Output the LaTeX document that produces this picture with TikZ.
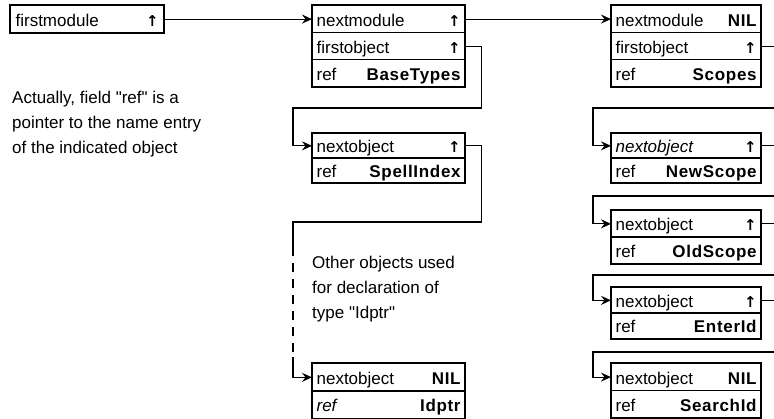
\documentclass[tikz,border=0pt]{standalone}
\usepackage{fontspec}
\setmainfont{Liberation Sans}[Ligatures=TeXOff]
\newfontfamily\arrowglyphs{DejaVu Sans}
\usetikzlibrary{arrows.meta,fit}

% small pointer glyph and a record field: name on the left, value on the right
\newcommand{\ptrmark}{{\arrowglyphs\bfseries\fontsize{15}{15}\selectfont ↑}}
\newcommand{\fieldrow}[3]{\makebox[#1]{#2\hfill{\bfseries\addfontfeature{LetterSpace=4}#3}}}

\begin{document}
\begin{tikzpicture}[x=1pt,y=-1pt,
  font=\fontsize{17}{25}\selectfont,
  cell/.style={draw, line width=1.2pt, inner sep=0pt, anchor=north west,
               text height=14pt, text depth=0pt},
  midcell/.style={cell, minimum width=152pt},
  rightcell/.style={cell, minimum width=149pt},
  frame/.style={draw, line width=2.2pt, inner sep=0pt},
  wire/.style={line width=1.1pt},
  ptr/.style={wire, -{Stealth[length=10pt,width=9pt,inset=3.5pt]}},
  gap/.style={wire, dash pattern=on 9pt off 7pt},
  note/.style={anchor=north west, align=left, inner sep=0pt},
]
\fill[white] (0,0) rectangle (774,419);
\useasboundingbox (0,0) rectangle (774,419);

% list head
\node[cell, minimum width=153pt, minimum height=27pt] (fm) at (10,5)
  {\fieldrow{143pt}{firstmodule}{\ptrmark}};
\node[frame, fit=(fm)] (fmf) {};

% module BaseTypes and its objects
\node[midcell, minimum height=27pt] (bt1) at (312,5)  {\fieldrow{144pt}{nextmodule}{\ptrmark}};
\node[midcell, minimum height=27pt] (bt2) at (312,32) {\fieldrow{144pt}{firstobject}{\ptrmark}};
\node[midcell, minimum height=27pt] (bt3) at (312,59) {\fieldrow{144pt}{ref}{BaseTypes}};
\node[frame, fit=(bt1)(bt3)] (bt) {};

\node[midcell, minimum height=24.5pt] (si1) at (312,133)   {\fieldrow{144pt}{nextobject}{\ptrmark}};
\node[midcell, minimum height=24.5pt] (si2) at (312,157.5) {\fieldrow{144pt}{ref}{SpellIndex}};
\node[frame, fit=(si1)(si2)] (si) {};

\node[midcell, minimum height=27.5pt] (ip1) at (312,363)   {\fieldrow{144pt}{nextobject}{NIL}};
\node[midcell, minimum height=27.5pt] (ip2) at (312,390.5) {\fieldrow{144pt}{\textit{ref}}{Idptr}};
\node[frame, fit=(ip1)(ip2)] (ip) {};

% module Scopes and its objects
\node[rightcell, minimum height=27pt] (sc1) at (611,5)  {\fieldrow{141pt}{nextmodule}{NIL}};
\node[rightcell, minimum height=27pt] (sc2) at (611,32) {\fieldrow{141pt}{firstobject}{\ptrmark}};
\node[rightcell, minimum height=27pt] (sc3) at (611,59) {\fieldrow{141pt}{ref}{Scopes}};
\node[frame, fit=(sc1)(sc3)] (sc) {};

\node[rightcell, minimum height=24.5pt] (ns1) at (611,133)   {\fieldrow{141pt}{\textit{nextobject}}{\ptrmark}};
\node[rightcell, minimum height=24.5pt] (ns2) at (611,157.5) {\fieldrow{141pt}{ref}{NewScope}};
\node[frame, fit=(ns1)(ns2)] (ns) {};

\node[rightcell, minimum height=26.5pt] (os1) at (611,210)   {\fieldrow{141pt}{nextobject}{\ptrmark}};
\node[rightcell, minimum height=26.5pt] (os2) at (611,236.5) {\fieldrow{141pt}{ref}{OldScope}};
\node[frame, fit=(os1)(os2)] (os) {};

\node[rightcell, minimum height=25.5pt] (ei1) at (611,287)   {\fieldrow{141pt}{nextobject}{\ptrmark}};
\node[rightcell, minimum height=25.5pt] (ei2) at (611,312.5) {\fieldrow{141pt}{ref}{EnterId}};
\node[frame, fit=(ei1)(ei2)] (ei) {};

\node[rightcell, minimum height=27pt] (sr1) at (611,363) {\fieldrow{141pt}{nextobject}{NIL}};
\node[rightcell, minimum height=27pt] (sr2) at (611,390) {\fieldrow{141pt}{ref}{SearchId}};
\node[frame, fit=(sr1)(sr2)] (sr) {};

% notes
\node[note] (n1) at (12,91)
  {Actually, field "ref" is a\\pointer to the name entry\\of the indicated object};
\node[note] (n2) at (312,255.5)
  {Other objects used\\for declaration of\\type "Idptr"};

% pointers of the first module
\draw[ptr] (fm.east) -- (bt1.west);
\draw[ptr] (bt1.east) -- (sc1.west);
\draw[ptr] (bt2.east) -- ++(16,0) |- (293,108) |- (si1.west);
\coordinate (dashtop) at (293,247);
\coordinate (dashend) at (293,357);
\draw[wire] (si1.east) -- ++(16,0) |- (293,222) -- (dashtop);
\draw[gap] (dashtop) -- (dashend);
\draw[ptr] (dashend) |- (ip1.west);

% pointers of the second module, running past the right margin
\coordinate (rim) at (774,0);
\coordinate (back1) at (774,108);
\coordinate (back2) at (774,196);
\coordinate (back3) at (774,275);
\coordinate (back4) at (774,352);
\draw[wire] (sc2.east) -- (sc2.east -| rim);
\draw[ptr] (back1) -| ([xshift=-18pt]ns1.west) -- (ns1.west);
\draw[wire] (ns1.east) -- (ns1.east -| rim);
\draw[ptr] (back2) -| ([xshift=-18pt]os1.west) -- (os1.west);
\draw[wire] (os1.east) -- (os1.east -| rim);
\draw[ptr] (back3) -| ([xshift=-18pt]ei1.west) -- (ei1.west);
\draw[wire] (ei1.east) -- (ei1.east -| rim);
\draw[ptr] (back4) -| ([xshift=-18pt]sr1.west) -- (sr1.west);
\end{tikzpicture}
\end{document}
